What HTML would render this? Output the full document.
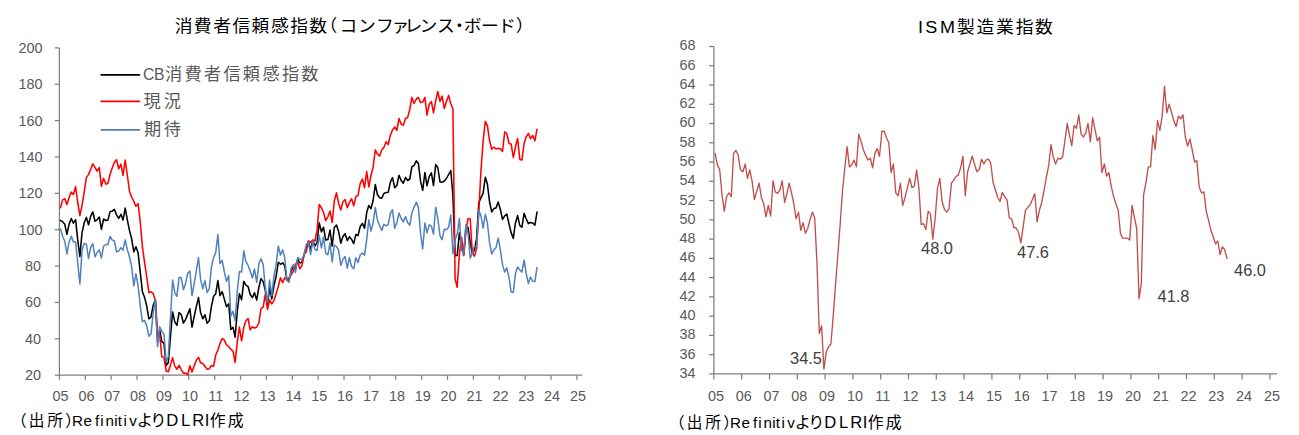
<!DOCTYPE html>
<html lang="ja"><head><meta charset="utf-8"><title>chart</title>
<style>html,body{margin:0;padding:0;background:#fff}svg{display:block}text{font-family:"Liberation Sans","Noto Sans CJK JP",sans-serif}.n{font-size:14.4px;fill:#595959}</style></head><body>
<svg width="1299" height="435" viewBox="0 0 1299 435">
<rect width="1299" height="435" fill="#fff"/>
<g stroke="#7F7F7F" stroke-width="1.25" fill="none">
<path d="M59.4,47.9 V375.2 H582.4"/>
<path d="M54.8,47.90 H59.4"/>
<path d="M54.8,84.27 H59.4"/>
<path d="M54.8,120.63 H59.4"/>
<path d="M54.8,157.00 H59.4"/>
<path d="M54.8,193.37 H59.4"/>
<path d="M54.8,229.73 H59.4"/>
<path d="M54.8,266.10 H59.4"/>
<path d="M54.8,302.47 H59.4"/>
<path d="M54.8,338.83 H59.4"/>
<path d="M54.8,375.20 H59.4"/>
<path d="M59.40,375.2 V379.8"/>
<path d="M85.28,375.2 V379.8"/>
<path d="M111.15,375.2 V379.8"/>
<path d="M137.03,375.2 V379.8"/>
<path d="M162.90,375.2 V379.8"/>
<path d="M188.78,375.2 V379.8"/>
<path d="M214.65,375.2 V379.8"/>
<path d="M240.53,375.2 V379.8"/>
<path d="M266.40,375.2 V379.8"/>
<path d="M292.27,375.2 V379.8"/>
<path d="M318.15,375.2 V379.8"/>
<path d="M344.02,375.2 V379.8"/>
<path d="M369.90,375.2 V379.8"/>
<path d="M395.77,375.2 V379.8"/>
<path d="M421.65,375.2 V379.8"/>
<path d="M447.52,375.2 V379.8"/>
<path d="M473.40,375.2 V379.8"/>
<path d="M499.27,375.2 V379.8"/>
<path d="M525.15,375.2 V379.8"/>
<path d="M551.02,375.2 V379.8"/>
<path d="M576.90,375.2 V379.8"/>
</g>
<text class="n" x="42.4" y="52.8" text-anchor="end">200</text>
<text class="n" x="42.4" y="89.2" text-anchor="end">180</text>
<text class="n" x="42.4" y="125.5" text-anchor="end">160</text>
<text class="n" x="42.4" y="161.9" text-anchor="end">140</text>
<text class="n" x="42.4" y="198.3" text-anchor="end">120</text>
<text class="n" x="42.4" y="234.6" text-anchor="end">100</text>
<text class="n" x="40.9" y="271.0" text-anchor="end">80</text>
<text class="n" x="40.9" y="307.4" text-anchor="end">60</text>
<text class="n" x="40.9" y="343.7" text-anchor="end">40</text>
<text class="n" x="40.9" y="380.1" text-anchor="end">20</text>
<text class="n" x="60.5" y="400.9" text-anchor="middle">05</text>
<text class="n" x="86.4" y="400.9" text-anchor="middle">06</text>
<text class="n" x="112.2" y="400.9" text-anchor="middle">07</text>
<text class="n" x="138.1" y="400.9" text-anchor="middle">08</text>
<text class="n" x="164.0" y="400.9" text-anchor="middle">09</text>
<text class="n" x="189.9" y="400.9" text-anchor="middle">10</text>
<text class="n" x="215.8" y="400.9" text-anchor="middle">11</text>
<text class="n" x="241.6" y="400.9" text-anchor="middle">12</text>
<text class="n" x="267.5" y="400.9" text-anchor="middle">13</text>
<text class="n" x="293.4" y="400.9" text-anchor="middle">14</text>
<text class="n" x="319.2" y="400.9" text-anchor="middle">15</text>
<text class="n" x="345.1" y="400.9" text-anchor="middle">16</text>
<text class="n" x="371.0" y="400.9" text-anchor="middle">17</text>
<text class="n" x="396.9" y="400.9" text-anchor="middle">18</text>
<text class="n" x="422.8" y="400.9" text-anchor="middle">19</text>
<text class="n" x="448.6" y="400.9" text-anchor="middle">20</text>
<text class="n" x="474.5" y="400.9" text-anchor="middle">21</text>
<text class="n" x="500.4" y="400.9" text-anchor="middle">22</text>
<text class="n" x="526.2" y="400.9" text-anchor="middle">23</text>
<text class="n" x="552.1" y="400.9" text-anchor="middle">24</text>
<text class="n" x="578.0" y="400.9" text-anchor="middle">25</text>
<g stroke="#7F7F7F" stroke-width="1.25" fill="none">
<path d="M713.9,46.5 V373.9 H1276.9"/>
<path d="M709.1,46.50 H713.9"/>
<path d="M709.1,65.76 H713.9"/>
<path d="M709.1,85.02 H713.9"/>
<path d="M709.1,104.28 H713.9"/>
<path d="M709.1,123.54 H713.9"/>
<path d="M709.1,142.79 H713.9"/>
<path d="M709.1,162.05 H713.9"/>
<path d="M709.1,181.31 H713.9"/>
<path d="M709.1,200.57 H713.9"/>
<path d="M709.1,219.83 H713.9"/>
<path d="M709.1,239.09 H713.9"/>
<path d="M709.1,258.35 H713.9"/>
<path d="M709.1,277.61 H713.9"/>
<path d="M709.1,296.86 H713.9"/>
<path d="M709.1,316.12 H713.9"/>
<path d="M709.1,335.38 H713.9"/>
<path d="M709.1,354.64 H713.9"/>
<path d="M709.1,373.90 H713.9"/>
<path d="M713.90,373.9 V379.4"/>
<path d="M741.70,373.9 V379.4"/>
<path d="M769.50,373.9 V379.4"/>
<path d="M797.30,373.9 V379.4"/>
<path d="M825.10,373.9 V379.4"/>
<path d="M852.90,373.9 V379.4"/>
<path d="M880.70,373.9 V379.4"/>
<path d="M908.50,373.9 V379.4"/>
<path d="M936.30,373.9 V379.4"/>
<path d="M964.10,373.9 V379.4"/>
<path d="M991.90,373.9 V379.4"/>
<path d="M1019.70,373.9 V379.4"/>
<path d="M1047.50,373.9 V379.4"/>
<path d="M1075.30,373.9 V379.4"/>
<path d="M1103.10,373.9 V379.4"/>
<path d="M1130.90,373.9 V379.4"/>
<path d="M1158.70,373.9 V379.4"/>
<path d="M1186.50,373.9 V379.4"/>
<path d="M1214.30,373.9 V379.4"/>
<path d="M1242.10,373.9 V379.4"/>
<path d="M1269.90,373.9 V379.4"/>
</g>
<text class="n" x="695.6" y="50.4" text-anchor="end">68</text>
<text class="n" x="695.6" y="69.7" text-anchor="end">66</text>
<text class="n" x="695.6" y="88.9" text-anchor="end">64</text>
<text class="n" x="695.6" y="108.2" text-anchor="end">62</text>
<text class="n" x="695.6" y="127.4" text-anchor="end">60</text>
<text class="n" x="695.6" y="146.7" text-anchor="end">58</text>
<text class="n" x="695.6" y="166.0" text-anchor="end">56</text>
<text class="n" x="695.6" y="185.2" text-anchor="end">54</text>
<text class="n" x="695.6" y="204.5" text-anchor="end">52</text>
<text class="n" x="695.6" y="223.7" text-anchor="end">50</text>
<text class="n" x="695.6" y="243.0" text-anchor="end">48</text>
<text class="n" x="695.6" y="262.2" text-anchor="end">46</text>
<text class="n" x="695.6" y="281.5" text-anchor="end">44</text>
<text class="n" x="695.6" y="300.8" text-anchor="end">42</text>
<text class="n" x="695.6" y="320.0" text-anchor="end">40</text>
<text class="n" x="695.6" y="339.3" text-anchor="end">38</text>
<text class="n" x="695.6" y="358.5" text-anchor="end">36</text>
<text class="n" x="695.6" y="377.8" text-anchor="end">34</text>
<text class="n" x="715.9" y="401.0" text-anchor="middle">05</text>
<text class="n" x="743.7" y="401.0" text-anchor="middle">06</text>
<text class="n" x="771.5" y="401.0" text-anchor="middle">07</text>
<text class="n" x="799.3" y="401.0" text-anchor="middle">08</text>
<text class="n" x="827.1" y="401.0" text-anchor="middle">09</text>
<text class="n" x="854.9" y="401.0" text-anchor="middle">10</text>
<text class="n" x="882.7" y="401.0" text-anchor="middle">11</text>
<text class="n" x="910.5" y="401.0" text-anchor="middle">12</text>
<text class="n" x="938.3" y="401.0" text-anchor="middle">13</text>
<text class="n" x="966.1" y="401.0" text-anchor="middle">14</text>
<text class="n" x="993.9" y="401.0" text-anchor="middle">15</text>
<text class="n" x="1021.7" y="401.0" text-anchor="middle">16</text>
<text class="n" x="1049.5" y="401.0" text-anchor="middle">17</text>
<text class="n" x="1077.3" y="401.0" text-anchor="middle">18</text>
<text class="n" x="1105.1" y="401.0" text-anchor="middle">19</text>
<text class="n" x="1132.9" y="401.0" text-anchor="middle">20</text>
<text class="n" x="1160.7" y="401.0" text-anchor="middle">21</text>
<text class="n" x="1188.5" y="401.0" text-anchor="middle">22</text>
<text class="n" x="1216.3" y="401.0" text-anchor="middle">23</text>
<text class="n" x="1244.1" y="401.0" text-anchor="middle">24</text>
<text class="n" x="1271.9" y="401.0" text-anchor="middle">25</text>
<text transform="scale(1.060,1)" y="31.8" fill="#000"><tspan x="164.92 182.88 201.24 219.37 237.37 255.60 273.84 291.86" font-size="16.8">消費者信頼感指数</tspan><tspan x="301.54 320.29 337.75 354.77 369.36 381.57 395.77 412.38 425.09 437.44 453.86 469.91 486.66" font-size="16.8">（コンファレンス・ボード）</tspan></text>
<text transform="scale(1.060,1)" y="32.9" fill="#000"><tspan x="865.94 872.93 886.79" font-size="17.0">ISM</tspan><tspan x="902.92 921.32 939.71 958.21 976.46" font-size="16.8">製造業指数</tspan></text>
<path d="M101.2,74.8 H139.4" stroke="#000000" stroke-width="1.85" stroke-linecap="round" fill="none"/>
<path d="M101.2,101.3 H139.4" stroke="#FF0000" stroke-width="1.85" stroke-linecap="round" fill="none"/>
<path d="M101.2,129.8 H139.4" stroke="#4F81BD" stroke-width="1.85" stroke-linecap="round" fill="none"/>
<text y="80.2" fill="#595959"><tspan x="143.01 154.09" font-size="15.8">CB</tspan><tspan x="165.12 184.39 204.07 223.52 242.84 262.39 281.95 301.29" font-size="17.2">消費者信頼感指数</tspan></text>
<text y="107.0" fill="#595959"><tspan x="143.54 163.66" font-size="17.2">現況</tspan></text>
<text y="134.9" fill="#595959"><tspan x="144.10 163.76" font-size="17.2">期待</tspan></text>
<text y="425.9" fill="#000"><tspan x="11.07 28.81 47.25 65.13" font-size="15.7">（出所）</tspan><tspan x="72.04 83.48 94.96 100.31 105.46 114.21 117.63 123.51 129.20" font-size="15.2">Refinitiv</tspan><tspan x="136.76 150.26" font-size="16.2">より</tspan><tspan x="166.31 181.08 192.31 204.70" font-size="16.6">DLRI</tspan><tspan x="209.65 227.77" font-size="15.9">作成</tspan></text>
<text y="427.9" fill="#000"><tspan x="669.07 686.81 705.25 723.13" font-size="15.7">（出所）</tspan><tspan x="730.04 741.48 752.96 758.31 763.46 772.21 775.63 781.51 787.20" font-size="15.2">Refinitiv</tspan><tspan x="794.76 808.26" font-size="16.2">より</tspan><tspan x="824.31 839.08 850.31 862.70" font-size="16.6">DLRI</tspan><tspan x="867.65 885.77" font-size="15.9">作成</tspan></text>
<text x="806" y="363.9" font-size="16.4" fill="#404040" text-anchor="middle">34.5</text>
<text x="937" y="254.1" font-size="16.4" fill="#404040" text-anchor="middle">48.0</text>
<text x="1033" y="257.9" font-size="16.4" fill="#404040" text-anchor="middle">47.6</text>
<text x="1173.5" y="301.9" font-size="16.4" fill="#404040" text-anchor="middle">41.8</text>
<text x="1250" y="275.9" font-size="16.4" fill="#404040" text-anchor="middle">46.0</text>
<path d="M60.5,220.5 L62.6,221.7 L64.8,224.3 L66.9,234.3 L69.1,224.1 L71.3,218.5 L73.4,223.2 L75.6,219.7 L77.7,239.7 L79.9,256.6 L82.0,232.8 L84.2,222.8 L86.4,217.4 L88.5,224.8 L90.7,216.1 L92.8,211.9 L95.0,221.2 L97.1,219.9 L99.3,217.0 L101.4,229.4 L103.6,219.0 L105.8,220.5 L107.9,220.1 L110.1,211.6 L112.2,211.2 L114.4,209.4 L116.5,214.8 L118.7,218.3 L120.9,214.3 L123.0,220.1 L125.2,208.1 L127.3,219.6 L129.5,230.6 L131.6,238.5 L133.8,251.9 L135.9,246.8 L138.1,252.8 L140.3,272.6 L142.4,291.7 L144.6,297.4 L146.7,305.9 L148.9,318.8 L151.0,317.2 L153.2,305.2 L155.4,299.9 L157.5,341.0 L159.7,330.3 L161.8,341.4 L164.0,343.6 L166.1,365.6 L168.3,362.7 L170.4,337.4 L172.6,311.9 L174.8,321.9 L176.9,325.4 L179.1,312.5 L181.2,314.5 L183.4,323.0 L185.5,319.6 L187.7,314.1 L189.9,308.8 L192.0,327.2 L194.2,316.5 L196.3,306.6 L198.5,297.6 L200.6,312.8 L202.8,318.8 L204.9,314.8 L207.1,323.2 L209.3,320.8 L211.4,306.5 L213.6,296.3 L215.7,293.7 L217.9,280.6 L220.0,295.6 L222.2,291.6 L224.4,299.4 L226.5,306.8 L228.7,303.9 L230.8,329.4 L233.0,327.2 L235.1,337.2 L237.3,311.2 L239.4,293.7 L241.6,299.7 L243.8,281.4 L245.9,285.2 L248.1,286.6 L250.2,294.5 L252.4,297.6 L254.5,292.6 L256.7,300.1 L258.9,287.2 L261.0,278.6 L263.2,281.6 L265.3,290.3 L267.5,305.4 L269.6,287.9 L271.8,299.0 L273.9,286.1 L276.1,276.5 L278.3,262.3 L280.4,264.3 L282.6,262.8 L284.7,265.7 L286.9,279.9 L289.0,280.6 L291.2,270.6 L293.4,267.2 L295.5,269.2 L297.7,259.0 L299.8,263.0 L302.0,262.1 L304.1,254.5 L306.3,247.4 L308.4,241.7 L310.6,249.7 L312.8,240.5 L314.9,246.1 L317.1,242.3 L319.2,222.8 L321.4,231.9 L323.5,227.2 L325.7,240.1 L327.9,239.6 L330.0,230.1 L332.2,246.1 L334.3,227.4 L336.5,225.0 L338.6,231.4 L340.8,243.2 L342.9,236.5 L345.1,233.7 L347.3,240.6 L349.4,236.8 L351.6,239.4 L353.7,243.6 L355.9,234.5 L358.0,235.7 L360.2,226.5 L362.4,223.4 L364.5,228.3 L366.7,212.6 L368.8,205.5 L371.0,208.6 L373.1,200.5 L375.3,184.5 L377.4,194.5 L379.6,197.7 L381.8,198.3 L383.9,193.4 L386.1,192.6 L388.2,192.3 L390.4,182.1 L392.5,177.7 L394.7,187.7 L396.9,185.5 L399.0,175.2 L401.2,180.6 L403.3,183.2 L405.5,177.4 L407.6,180.5 L409.8,179.0 L411.9,166.6 L414.1,165.5 L416.3,160.8 L418.4,163.5 L420.6,181.4 L422.7,190.3 L424.9,172.6 L427.0,185.7 L429.2,176.6 L431.4,172.8 L433.5,185.5 L435.7,164.6 L437.8,167.5 L440.0,181.9 L442.1,182.3 L444.3,181.0 L446.4,178.5 L448.6,174.5 L450.8,170.5 L452.9,195.5 L455.1,255.7 L457.2,255.4 L459.4,232.8 L461.5,244.8 L463.7,254.6 L465.9,227.4 L468.0,227.2 L470.2,242.6 L472.3,253.2 L474.5,249.9 L476.6,238.5 L478.8,202.6 L480.9,197.9 L483.1,193.4 L485.3,177.2 L487.4,184.1 L489.6,202.1 L491.7,211.9 L493.9,208.6 L496.0,208.1 L498.2,202.1 L500.4,209.5 L502.5,219.4 L504.7,215.9 L506.8,214.1 L509.0,223.9 L511.1,232.6 L513.3,238.3 L515.4,223.2 L517.6,215.6 L519.8,225.7 L521.9,227.2 L524.1,213.4 L526.2,218.8 L528.4,223.6 L530.5,222.5 L532.7,223.0 L534.9,225.2 L537.0,212.1" fill="none" stroke="#000000" stroke-width="1.55" stroke-linejoin="round" stroke-linecap="round"/>
<path d="M60.5,207.7 L62.6,199.9 L64.8,198.8 L66.9,204.6 L69.1,197.4 L71.3,192.1 L73.4,194.6 L75.6,186.5 L77.7,202.5 L79.9,215.6 L82.0,205.7 L84.2,192.1 L86.4,177.4 L88.5,174.6 L90.7,169.2 L92.8,163.9 L95.0,167.7 L97.1,171.2 L99.3,167.5 L101.4,186.3 L103.6,178.3 L105.8,184.1 L107.9,183.5 L110.1,174.3 L112.2,168.1 L114.4,162.3 L116.5,159.7 L118.7,168.8 L120.9,164.1 L123.0,175.4 L125.2,160.1 L127.3,175.0 L129.5,191.2 L131.6,197.0 L133.8,201.2 L135.9,206.3 L138.1,203.7 L140.3,222.5 L142.4,246.8 L144.6,262.6 L146.7,276.6 L148.9,292.6 L151.0,291.9 L153.2,293.4 L155.4,300.5 L157.5,332.5 L159.7,334.7 L161.8,356.7 L164.0,357.6 L166.1,371.0 L168.3,371.7 L170.4,365.2 L172.6,357.6 L174.8,366.1 L176.9,369.2 L179.1,365.4 L181.2,369.7 L183.4,373.2 L185.5,373.0 L187.7,374.8 L189.9,365.7 L192.0,372.1 L194.2,365.7 L196.3,360.3 L198.5,357.4 L200.6,362.8 L202.8,363.6 L204.9,366.3 L207.1,369.2 L209.3,368.8 L211.4,365.4 L213.6,366.3 L215.7,355.0 L217.9,350.1 L220.0,343.4 L222.2,338.5 L224.4,340.1 L226.5,345.0 L228.7,346.7 L230.8,349.2 L233.0,351.0 L235.1,362.3 L237.3,341.9 L239.4,327.0 L241.6,341.0 L243.8,327.2 L245.9,320.8 L248.1,318.5 L250.2,329.9 L252.4,326.8 L254.5,328.1 L256.7,327.0 L258.9,323.0 L261.0,308.5 L263.2,307.2 L265.3,294.1 L267.5,309.4 L269.6,299.9 L271.8,303.9 L273.9,300.6 L276.1,293.7 L278.3,286.6 L280.4,277.7 L282.6,282.6 L284.7,277.9 L286.9,279.6 L289.0,277.9 L291.2,274.6 L293.4,271.0 L295.5,264.3 L297.7,261.6 L299.8,268.8 L302.0,265.6 L304.1,254.6 L306.3,251.7 L308.4,240.8 L310.6,242.5 L312.8,239.9 L314.9,241.2 L317.1,229.9 L319.2,204.5 L321.4,207.7 L323.5,212.5 L325.7,220.5 L327.9,216.8 L330.0,211.0 L332.2,222.5 L334.3,201.0 L336.5,192.8 L338.6,203.2 L340.8,209.9 L342.9,201.9 L345.1,199.5 L347.3,207.7 L349.4,202.6 L351.6,198.6 L353.7,205.7 L355.9,196.5 L358.0,195.5 L360.2,183.7 L362.4,179.0 L364.5,187.7 L366.7,171.5 L368.8,187.0 L371.0,175.2 L373.1,167.2 L375.3,149.9 L377.4,154.1 L379.6,155.9 L381.8,149.9 L383.9,147.2 L386.1,141.7 L388.2,144.5 L390.4,135.2 L392.5,129.9 L394.7,127.0 L396.9,130.3 L399.0,118.5 L401.2,124.1 L403.3,125.2 L405.5,118.5 L407.6,117.5 L409.8,109.5 L411.9,97.4 L414.1,103.5 L416.3,99.0 L418.4,97.5 L420.6,102.6 L422.7,102.1 L424.9,97.4 L427.0,115.2 L429.2,104.3 L431.4,101.5 L433.5,112.8 L435.7,100.8 L437.8,91.5 L440.0,101.4 L442.1,96.1 L444.3,108.6 L446.4,101.5 L448.6,95.4 L450.8,103.7 L452.9,108.5 L455.1,278.8 L457.2,287.2 L459.4,253.9 L461.5,237.2 L463.7,255.6 L465.9,231.7 L468.0,218.5 L470.2,219.0 L472.3,253.0 L474.5,256.1 L476.6,248.6 L478.8,211.4 L480.9,171.7 L483.1,141.2 L485.3,121.4 L487.4,125.7 L489.6,140.8 L491.7,149.2 L493.9,147.0 L496.0,149.0 L498.2,148.3 L500.4,148.8 L502.5,151.5 L504.7,131.9 L506.8,133.5 L509.0,143.5 L511.1,143.9 L513.3,157.5 L515.4,147.4 L517.6,138.5 L519.8,159.4 L521.9,160.1 L524.1,143.5 L526.2,136.8 L528.4,133.4 L530.5,138.8 L532.7,135.5 L534.9,140.8 L537.0,129.2" fill="none" stroke="#FF0000" stroke-width="1.55" stroke-linejoin="round" stroke-linecap="round"/>
<path d="M60.5,229.0 L62.6,236.3 L64.8,241.2 L66.9,253.9 L69.1,241.9 L71.3,236.3 L73.4,242.1 L75.6,241.9 L77.7,262.5 L79.9,284.1 L82.0,250.8 L84.2,243.2 L86.4,244.1 L88.5,258.5 L90.7,247.4 L92.8,243.7 L95.0,256.8 L97.1,252.5 L99.3,249.9 L101.4,258.1 L103.6,246.1 L105.8,244.5 L107.9,244.5 L110.1,236.5 L112.2,239.9 L114.4,241.0 L116.5,251.7 L118.7,251.2 L120.9,247.7 L123.0,250.1 L125.2,239.9 L127.3,249.4 L129.5,257.0 L131.6,266.1 L133.8,285.9 L135.9,273.7 L138.1,285.6 L140.3,306.1 L142.4,321.7 L144.6,320.5 L146.7,325.6 L148.9,336.3 L151.0,333.9 L153.2,313.2 L155.4,299.7 L157.5,346.7 L159.7,326.7 L161.8,331.2 L164.0,334.3 L166.1,361.9 L168.3,356.7 L170.4,318.8 L172.6,280.1 L174.8,292.5 L176.9,296.3 L179.1,277.4 L181.2,277.6 L183.4,289.7 L185.5,283.7 L187.7,273.6 L189.9,271.0 L192.0,295.6 L194.2,283.6 L196.3,270.8 L198.5,257.7 L200.6,279.4 L202.8,288.8 L204.9,280.6 L207.1,292.5 L209.3,288.8 L211.4,267.0 L213.6,257.4 L215.7,252.8 L217.9,234.3 L220.0,263.7 L222.2,260.3 L224.4,272.1 L226.5,281.4 L228.7,275.4 L230.8,316.3 L233.0,311.4 L235.1,320.6 L237.3,290.8 L239.4,271.6 L241.6,272.1 L243.8,250.8 L245.9,261.6 L248.1,265.4 L250.2,271.0 L252.4,278.1 L254.5,269.0 L256.7,282.3 L258.9,263.4 L261.0,258.8 L263.2,264.5 L265.3,287.7 L267.5,302.6 L269.6,279.9 L271.8,295.7 L273.9,276.5 L276.1,265.0 L278.3,245.9 L280.4,255.2 L282.6,249.7 L284.7,257.6 L286.9,280.3 L289.0,282.3 L291.2,267.9 L293.4,264.6 L295.5,272.5 L297.7,257.4 L299.8,259.0 L302.0,259.7 L304.1,254.5 L306.3,244.5 L308.4,242.3 L310.6,254.5 L312.8,241.0 L314.9,249.2 L317.1,250.6 L319.2,235.2 L321.4,247.9 L323.5,237.0 L325.7,253.2 L327.9,254.8 L330.0,242.8 L332.2,261.9 L334.3,245.0 L336.5,246.5 L338.6,250.3 L340.8,265.4 L342.9,259.4 L345.1,256.5 L347.3,268.1 L349.4,257.6 L351.6,266.6 L353.7,268.8 L355.9,257.7 L358.0,262.5 L360.2,255.0 L362.4,253.0 L364.5,255.2 L366.7,239.9 L368.8,219.7 L371.0,231.0 L373.1,222.6 L375.3,207.4 L377.4,219.9 L379.6,225.6 L381.8,230.5 L383.9,224.3 L386.1,225.9 L388.2,224.3 L390.4,213.4 L392.5,209.7 L394.7,228.3 L396.9,222.5 L399.0,213.0 L401.2,218.5 L403.3,221.9 L405.5,216.6 L407.6,222.5 L409.8,225.4 L411.9,212.8 L414.1,207.0 L416.3,202.3 L418.4,207.4 L420.6,233.9 L422.7,249.0 L424.9,222.8 L427.0,232.8 L429.2,224.8 L431.4,226.1 L433.5,234.1 L435.7,207.2 L437.8,218.1 L440.0,235.6 L442.1,239.7 L444.3,229.2 L446.4,229.7 L448.6,227.2 L450.8,215.0 L452.9,253.7 L455.1,240.1 L457.2,234.1 L459.4,218.6 L461.5,249.9 L463.7,254.1 L465.9,224.5 L468.0,233.0 L470.2,258.3 L472.3,253.4 L474.5,245.7 L476.6,246.3 L478.8,210.6 L480.9,215.4 L483.1,228.1 L485.3,214.3 L487.4,222.8 L489.6,242.8 L491.7,253.9 L493.9,249.7 L496.0,247.6 L498.2,238.1 L500.4,250.1 L502.5,264.6 L504.7,272.1 L506.8,267.9 L509.0,277.6 L511.1,291.9 L513.3,292.3 L515.4,273.7 L517.6,267.0 L519.8,269.9 L521.9,272.1 L524.1,259.9 L526.2,273.4 L528.4,283.6 L530.5,277.0 L532.7,281.2 L534.9,281.6 L537.0,267.4" fill="none" stroke="#4F81BD" stroke-width="1.5" stroke-linejoin="round" stroke-linecap="round"/>
<path d="M715.1,153.4 L717.4,164.9 L719.7,169.8 L722.0,194.8 L724.3,211.2 L726.6,196.7 L729.0,192.9 L731.3,196.7 L733.6,153.4 L735.9,150.5 L738.2,155.3 L740.5,169.8 L742.9,171.7 L745.2,164.0 L747.5,178.4 L749.8,169.8 L752.1,181.3 L754.4,199.6 L756.8,190.9 L759.1,183.2 L761.4,197.7 L763.7,203.5 L766.0,216.9 L768.3,205.4 L770.7,216.0 L773.0,180.8 L775.3,191.9 L777.6,193.3 L779.9,190.0 L782.2,180.8 L784.6,202.5 L786.9,193.8 L789.2,183.2 L791.5,192.9 L793.8,203.5 L796.1,218.9 L798.5,212.1 L800.8,230.4 L803.1,222.7 L805.4,233.3 L807.7,228.5 L810.0,219.8 L812.4,212.1 L814.7,217.9 L817.0,263.2 L819.3,333.5 L821.6,325.8 L823.9,369.1 L826.3,351.8 L828.6,346.9 L830.9,344.0 L833.2,316.1 L835.5,285.3 L837.8,255.5 L840.2,223.7 L842.5,190.9 L844.8,167.8 L847.1,146.6 L849.4,166.9 L851.7,164.9 L854.1,160.1 L856.4,166.9 L858.7,134.1 L861.0,141.3 L863.3,149.5 L865.6,155.3 L868.0,160.1 L870.3,158.2 L872.6,167.8 L874.9,153.4 L877.2,148.6 L879.5,156.3 L881.9,131.2 L884.2,131.2 L886.5,138.0 L888.8,142.8 L891.1,172.6 L893.4,164.0 L895.8,192.9 L898.1,195.8 L900.4,183.2 L902.7,205.4 L905.0,197.7 L907.3,188.1 L909.7,178.4 L912.0,187.6 L914.3,186.1 L916.6,169.8 L918.9,187.6 L921.2,224.6 L923.6,223.7 L925.9,229.5 L928.2,211.2 L930.5,214.1 L932.8,239.1 L935.1,218.9 L937.5,188.1 L939.8,178.4 L942.1,201.5 L944.4,209.2 L946.7,212.1 L949.0,208.8 L951.4,183.2 L953.7,180.3 L956.0,176.5 L958.3,175.1 L960.6,167.8 L962.9,156.3 L965.3,195.8 L967.6,171.7 L969.9,164.0 L972.2,156.3 L974.5,164.0 L976.8,171.7 L979.2,169.8 L981.5,159.2 L983.8,164.0 L986.1,160.1 L988.4,159.2 L990.7,163.0 L993.1,182.3 L995.4,190.0 L997.7,197.2 L1000.0,201.5 L1002.3,192.4 L1004.6,196.7 L1007.0,199.6 L1009.3,217.9 L1011.6,218.9 L1013.9,227.5 L1016.2,228.0 L1018.5,232.3 L1020.9,242.9 L1023.2,226.6 L1025.5,210.2 L1027.8,207.3 L1030.1,204.9 L1032.4,199.6 L1034.8,193.8 L1037.1,221.8 L1039.4,210.2 L1041.7,202.5 L1044.0,190.9 L1046.3,177.5 L1048.7,165.4 L1051.0,144.7 L1053.3,157.2 L1055.6,164.0 L1057.9,158.2 L1060.2,159.2 L1062.6,156.8 L1064.9,140.9 L1067.2,123.5 L1069.5,135.1 L1071.8,145.7 L1074.1,125.5 L1076.5,128.3 L1078.8,114.9 L1081.1,134.1 L1083.4,137.0 L1085.7,133.2 L1088.0,123.5 L1090.4,141.8 L1092.7,117.8 L1095.0,129.3 L1097.3,140.9 L1099.6,137.0 L1101.9,172.6 L1104.3,164.0 L1106.6,176.0 L1108.9,172.6 L1111.2,186.1 L1113.5,196.2 L1115.8,203.5 L1118.2,210.2 L1120.5,233.7 L1122.8,238.1 L1125.1,238.1 L1127.4,238.1 L1129.7,240.1 L1132.1,205.4 L1134.4,217.4 L1136.7,228.5 L1139.0,298.8 L1141.3,283.4 L1143.6,194.8 L1146.0,182.3 L1148.3,166.9 L1150.6,166.9 L1152.9,135.5 L1155.2,149.5 L1157.5,120.6 L1159.9,130.3 L1162.2,115.8 L1164.5,86.3 L1166.8,112.9 L1169.1,104.3 L1171.4,112.0 L1173.8,120.6 L1176.1,126.7 L1178.4,116.2 L1180.7,118.7 L1183.0,114.9 L1185.3,137.0 L1187.7,146.0 L1190.0,138.9 L1192.3,150.5 L1194.6,162.1 L1196.9,160.6 L1199.2,187.1 L1201.6,192.9 L1203.9,191.9 L1206.2,211.2 L1208.5,219.8 L1210.8,229.9 L1213.1,236.2 L1215.5,243.9 L1217.8,241.0 L1220.1,254.5 L1222.4,246.8 L1224.7,249.7 L1227.0,258.3" fill="none" stroke="#C0504D" stroke-width="1.35" stroke-linejoin="round" stroke-linecap="round"/>
</svg></body></html>
